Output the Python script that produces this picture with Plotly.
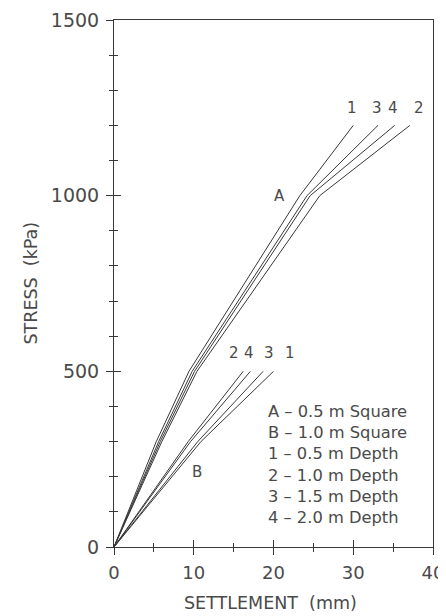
import plotly.graph_objects as go

# ---- data (settlement mm, stress kPa) ----
stress_A = [0, 300, 500, 1000, 1200]
settle_A1 = [0, 5.3, 9.4, 23.3, 30.0]
settle_A3 = [0, 5.6, 9.8, 24.2, 33.1]
settle_A4 = [0, 5.8, 10.1, 24.6, 35.2]
settle_A2 = [0, 6.0, 10.4, 25.8, 37.1]

stress_B = [0, 300, 500]
settle_B2 = [0, 9.3, 16.2]
settle_B4 = [0, 9.6, 17.1]
settle_B3 = [0, 10.5, 18.7]
settle_B1 = [0, 10.9, 20.0]

labels_A = ["1", "3", "4", "2"]
labels_A_x = [29.8, 33.0, 35.0, 38.3]
labels_B = ["2", "4", "3", "1"]
labels_B_x = [15.0, 16.9, 19.4, 22.1]

legend_lines = ["A \u2013 0.5 m Square", "B \u2013 1.0 m Square", "1 \u2013 0.5 m Depth",
                "2 \u2013 1.0 m Depth", "3 \u2013 1.5 m Depth", "4 \u2013 2.0 m Depth"]

x_ticks = [0, 10, 20, 30, 40]
y_ticks = [0, 500, 1000, 1500]

LINE = "#383838"
TXT = "#4a4a4a"
FONT = "DejaVu Sans"

fig = go.Figure()
for xs in [settle_A1, settle_A3, settle_A4, settle_A2]:
    fig.add_trace(go.Scatter(x=xs, y=stress_A, mode="lines",
                             line=dict(color=LINE, width=1), showlegend=False, hoverinfo="skip"))
for xs in [settle_B2, settle_B4, settle_B3, settle_B1]:
    fig.add_trace(go.Scatter(x=xs, y=stress_B, mode="lines",
                             line=dict(color=LINE, width=1), showlegend=False, hoverinfo="skip"))
# empty trace to activate overlay axes (inner tick halves)
fig.add_trace(go.Scatter(x=[], y=[], xaxis="x2", yaxis="y2", showlegend=False))

for t, x in zip(labels_A, labels_A_x):
    fig.add_annotation(x=x, y=1250, text=t, showarrow=False,
                       font=dict(family=FONT, size=15, color=TXT))
for t, x in zip(labels_B, labels_B_x):
    fig.add_annotation(x=x, y=553, text=t, showarrow=False,
                       font=dict(family=FONT, size=15, color=TXT))
fig.add_annotation(x=20.8, y=1000, text="A", showarrow=False,
                   font=dict(family=FONT, size=15, color=TXT))
fig.add_annotation(x=10.4, y=213, text="B", showarrow=False,
                   font=dict(family=FONT, size=15, color=TXT))
fig.add_annotation(x=19.1, y=418, text="<br>".join(legend_lines), showarrow=False,
                   xanchor="left", yanchor="top", align="left",
                   font=dict(family=FONT, size=16.3, color=TXT))

# axis titles
fig.add_annotation(xref="paper", yref="paper", x=0.49, y=0, yanchor="middle", yshift=-56,
                   text="SETTLEMENT  (mm)", showarrow=False,
                   font=dict(family=FONT, size=17.5, color=TXT))
fig.add_annotation(xref="paper", yref="paper", x=0, y=0.5, xanchor="center", xshift=-84,
                   text="STRESS  (kPa)", textangle=-90, showarrow=False,
                   font=dict(family=FONT, size=17.5, color=TXT))

rng_x = [0, 40]
rng_y = [0, 1500]
common = dict(showgrid=False, zeroline=False, showline=True, linecolor=LINE, linewidth=1,
              tickcolor=LINE, tickwidth=1, automargin=False)

# the page body adds an 8px offset; size the figure so it fills the 446x616 window
fig.update_layout(
    width=438, height=608,
    margin=dict(l=106, r=13, t=12, b=69),
    paper_bgcolor="white", plot_bgcolor="white",
    font=dict(family=FONT, color=TXT),
    xaxis=dict(range=rng_x, tickvals=x_ticks, ticks="outside", ticklen=7, mirror=True,
               tickfont=dict(size=18, family=FONT, color=TXT), ticklabelstandoff=2,
               minor=dict(dtick=5, tick0=0, ticks="outside", ticklen=4, tickcolor=LINE),
               **common),
    yaxis=dict(range=rng_y, tickvals=y_ticks, ticks="outside", ticklen=7, mirror=True,
               tickfont=dict(size=19, family=FONT, color=TXT), ticklabelstandoff=3,
               minor=dict(dtick=100, tick0=0, ticks="outside", ticklen=4, tickcolor=LINE),
               **common),
    xaxis2=dict(range=rng_x, overlaying="x", tickvals=x_ticks, ticks="inside", ticklen=7,
                showticklabels=False, showgrid=False, zeroline=False, showline=False,
                tickcolor=LINE, side="bottom", automargin=False,
                minor=dict(dtick=5, tick0=0, ticks="inside", ticklen=4, tickcolor=LINE)),
    yaxis2=dict(range=rng_y, overlaying="y", tickvals=y_ticks, ticks="inside", ticklen=7,
                showticklabels=False, showgrid=False, zeroline=False, showline=False,
                tickcolor=LINE, side="left", automargin=False,
                minor=dict(dtick=100, tick0=0, ticks="inside", ticklen=4, tickcolor=LINE)),
)

fig.write_html("out.html")
